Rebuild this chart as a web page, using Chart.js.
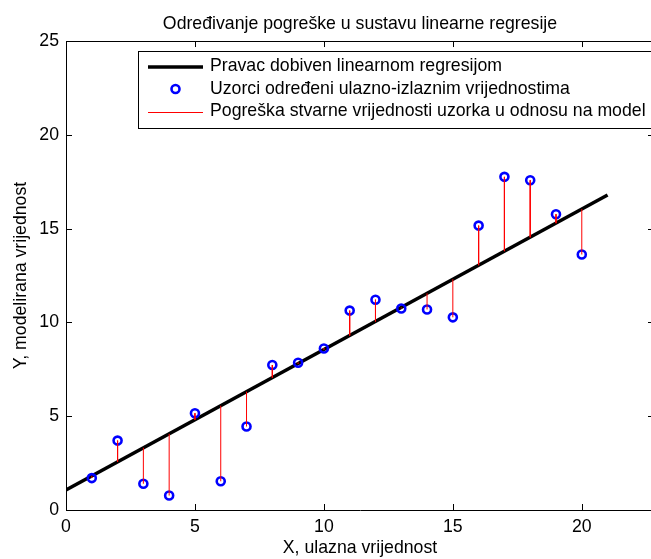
<!DOCTYPE html>
<html>
<head>
<meta charset="utf-8">
<script src="https://cdn.jsdelivr.net/npm/chart.js@4.4.1/dist/chart.umd.min.js"></script>
<style>
html,body{margin:0;padding:0;background:#fff;overflow:hidden;width:651px;height:559px}
#wrap{position:relative;width:654px;height:559px;overflow:hidden}
canvas{display:block}
</style>
</head>
<body>
<div id="wrap"><canvas id="c" width="654" height="559"></canvas></div>
<script>
// ---- data ----
const titleText = 'Određivanje pogreške u sustavu linearne regresije';
const xAxisLabel = 'X, ulazna vrijednost';
const yAxisLabel = 'Y, modelirana vrijednost';
const legendLabels = [
  'Pravac dobiven linearnom regresijom',
  'Uzorci određeni ulazno-izlaznim vrijednostima',
  'Pogreška stvarne vrijednosti uzorka u odnosu na model'
];
const xTickValues = [0, 5, 10, 15, 20];
const yTickValues = [0, 5, 10, 15, 20, 25];

const sampleX = [1, 2, 3, 4, 5, 6, 7, 8, 9, 10, 11, 12, 13, 14, 15, 16, 17, 18, 19, 20];
const sampleY = [1.70, 3.70, 1.40, 0.77, 5.16, 1.53, 4.45, 7.73, 7.85, 8.61, 10.63, 11.21, 10.74, 10.69, 10.27, 15.16, 17.76, 17.58, 15.77, 13.62];
const modelY  = [1.82, 2.57, 3.32, 4.06, 4.81, 5.56, 6.31, 7.06, 7.81, 8.56, 9.30, 10.05, 10.80, 11.55, 12.30, 13.05, 13.80, 14.54, 15.29, 16.04];

const lineX = [0, 21];
const lineY = [1.07, 16.79];

// ---- build datasets ----
const FONT = "'Liberation Sans', Arial, Helvetica, sans-serif";
const FS = 17.7;

const regressionData = lineX.map((v, i) => ({x: v, y: lineY[i]}));
const sampleData = sampleX.map((v, i) => ({x: v, y: sampleY[i]}));
const stemData = [];
sampleX.forEach((v, i) => {
  stemData.push({x: v, y: sampleY[i]});
  stemData.push({x: v, y: modelY[i]});
  stemData.push({x: v, y: null});
});

const figurePlugin = {
  id: 'figurePlugin',
  afterDraw(chart) {
    const {ctx, chartArea: a, scales: {x, y}} = chart;
    ctx.save();
    // box top/right + inward ticks
    ctx.strokeStyle = '#000';
    ctx.lineWidth = 1;
    ctx.beginPath();
    ctx.moveTo(a.left, Math.round(a.top) + 0.5);
    ctx.lineTo(a.right, Math.round(a.top) + 0.5);
    ctx.moveTo(Math.round(a.right) - 0.5, a.top);
    ctx.lineTo(Math.round(a.right) - 0.5, a.bottom);
    const TL = 6;
    x.ticks.forEach(t => {
      const px = Math.round(x.getPixelForValue(t.value)) + 0.5;
      ctx.moveTo(px, a.bottom); ctx.lineTo(px, a.bottom - TL);
      ctx.moveTo(px, a.top); ctx.lineTo(px, a.top + TL);
    });
    y.ticks.forEach(t => {
      const py = Math.round(y.getPixelForValue(t.value)) + 0.5;
      ctx.moveTo(a.left, py); ctx.lineTo(a.left + TL, py);
      ctx.moveTo(a.right, py); ctx.lineTo(a.right - TL, py);
    });
    ctx.stroke();

    // legend box (MATLAB style, inside the axes)
    const bx = 138.5, by = 51.5, bw = 515, bh = 77;
    ctx.fillStyle = '#fff';
    ctx.fillRect(bx, by, bw, bh);
    ctx.strokeStyle = '#000';
    ctx.lineWidth = 1;
    ctx.strokeRect(bx, by, bw, bh);
    const rows = [66.5, 89, 111.5];
    const ds = chart.data.datasets;
    ctx.font = FS + 'px ' + FONT;
    ctx.textBaseline = 'middle';
    ctx.textAlign = 'left';
    rows.forEach((ry, i) => {
      const d = ds[i];
      if (i === 1) {
        ctx.beginPath();
        ctx.arc(175.5, ry, d.pointRadius, 0, Math.PI * 2);
        ctx.strokeStyle = d.borderColor;
        ctx.lineWidth = d.borderWidth;
        ctx.stroke();
      } else {
        ctx.beginPath();
        ctx.moveTo(148, Math.round(ry) + (d.borderWidth === 1 ? 0.5 : 0));
        ctx.lineTo(203, Math.round(ry) + (d.borderWidth === 1 ? 0.5 : 0));
        ctx.strokeStyle = d.borderColor;
        ctx.lineWidth = d.borderWidth;
        ctx.stroke();
      }
      ctx.fillStyle = '#000';
      ctx.fillText(d.label, 210, ry);
    });
    ctx.restore();
  }
};

new Chart(document.getElementById('c'), {
  type: 'scatter',
  data: {
    datasets: [
      {
        type: 'line',
        label: legendLabels[0],
        data: regressionData,
        borderColor: '#000000',
        borderWidth: 3.5,
        pointRadius: 0,
        fill: false,
        order: 3
      },
      {
        type: 'scatter',
        label: legendLabels[1],
        data: sampleData,
        pointStyle: 'circle',
        pointRadius: 4,
        borderWidth: 2.6,
        borderColor: '#0000ff',
        backgroundColor: 'rgba(255,255,255,0)',
        order: 2
      },
      {
        type: 'line',
        label: legendLabels[2],
        data: stemData,
        borderColor: '#ff0000',
        borderWidth: 1,
        pointRadius: 0,
        spanGaps: false,
        fill: false,
        order: 1
      }
    ]
  },
  options: {
    responsive: false,
    animation: false,
    devicePixelRatio: 1,
    layout: {autoPadding: false, padding: {top: 0, right: 0, left: 0, bottom: 0}},
    plugins: {
      legend: {display: false},
      tooltip: {enabled: false},
      title: {
        display: true,
        text: titleText,
        fullSize: false,
        color: '#000',
        font: {family: FONT, size: FS, weight: 'normal'},
        padding: {top: 13, bottom: 6.8}
      }
    },
    scales: {
      x: {
        type: 'linear',
        min: 0,
        max: 22.8,
        afterBuildTicks: s => { s.ticks = xTickValues.map(v => ({value: v})); },
        afterFit: s => { s.height = 49; s.paddingRight = 0; s.paddingLeft = 0; },
        grid: {display: false, drawTicks: false},
        border: {display: true, color: '#000', width: 1},
        ticks: {padding: 6, color: '#000', font: {family: FONT, size: FS}},
        title: {display: true, text: xAxisLabel, color: '#000', font: {family: FONT, size: FS}, padding: {top: 0, bottom: 0}}
      },
      y: {
        type: 'linear',
        min: 0,
        max: 25,
        afterBuildTicks: s => { s.ticks = yTickValues.map(v => ({value: v})); },
        afterFit: s => { s.width = 66; s.paddingTop = 0; s.paddingBottom = 0; },
        grid: {display: false, drawTicks: false},
        border: {display: true, color: '#000', width: 1},
        ticks: {padding: 7, color: '#000', font: {family: FONT, size: FS}},
        title: {display: true, text: yAxisLabel, color: '#000', font: {family: FONT, size: FS}, padding: {top: 10, bottom: 0}}
      }
    }
  },
  plugins: [figurePlugin]
});
</script>
</body>
</html>
